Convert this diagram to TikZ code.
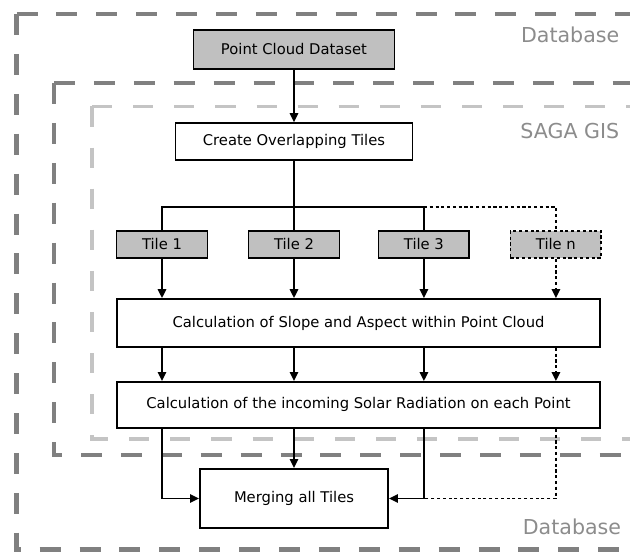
\documentclass[tikz,border=0pt]{standalone}
\usepackage{fontspec}
\setmainfont{DejaVu Sans}
\usetikzlibrary{arrows.meta}
\definecolor{framedark}{HTML}{808080}
\definecolor{framelight}{HTML}{C4C4C4}
\definecolor{boxgrey}{HTML}{C0C0C0}
\definecolor{labelgrey}{HTML}{8C8C8C}
\newcommand{\frameline}[4]{
	\draw[#1] (#2,#3) -- (22,#3);
	\draw[#1] (#2,#3) -- (#2,#4) -- (22,#4);
}

\begin{document}
\begin{tikzpicture}[line width=1.7pt, >={Triangle[length=3mm,width=2.8mm]},
	box/.style={draw, fill=white, font=\fontsize{14}{17}\selectfont},
	tile/.style={box, fill=boxgrey, minimum width=3.03cm, minimum height=0.9cm},
	dotline/.style={dash pattern=on 3pt off 2.5pt},
	outerframe/.style={framedark, line width=4.7pt, dash pattern=on 0.7cm off 0.63cm},
	innerframe/.style={framelight, line width=3.2pt, dash pattern=on 0.67cm off 0.7cm},
	tag/.style={anchor=east, inner sep=0pt, labelgrey, font=\fontsize{19.5}{23}\selectfont}]
	\useasboundingbox (0,0) rectangle (21,18.367);
	
	%database and saga gis frames
	\frameline{outerframe}{0.55}{17.9}{0.05}
	\frameline{outerframe}{1.8}{15.6}{3.2}
	\frameline{innerframe}{3.07}{14.82}{3.73}
	\node[tag] (dbtop) at (20.67,17.2) {Database};
	\node[tag] (saga) at (20.67,14.0) {SAGA GIS};
	\node[tag] (dbbottom) at (20.73,0.8) {Database};
	
	%processing steps
	\node[box, fill=boxgrey, minimum width=6.7cm, minimum height=1.3cm] (pcd) at (9.8,16.72) {Point Cloud Dataset};
	\node[box, minimum width=7.9cm, minimum height=1.23cm] (create) at (9.8,13.65) {Create Overlapping Tiles};
	%tiles
	\node[tile] (tile1) at (5.4,10.22) {Tile 1};
	\node[tile] (tile2) at (9.8,10.22) {Tile 2};
	\node[tile] (tile3) at (14.13,10.22) {Tile 3};
	\node[tile, dotline] (tilen) at (18.53,10.22) {Tile n};
	%calculations and merging
	\node[box, minimum width=16.1cm, minimum height=1.6cm] (slope) at (11.95,7.6) {Calculation of Slope and Aspect within Point Cloud};
	\node[box, minimum width=16.1cm, minimum height=1.53cm] (solar) at (11.95,4.87) {Calculation of the incoming Solar Radiation on each Point};
	\node[box, minimum width=6.27cm, minimum height=1.97cm] (merge) at (9.8,1.75) {Merging all Tiles};
	
	%connections
	\coordinate (split) at (9.8,11.47);
	\draw[->] (pcd) -- (create);
	\draw (create) -- (tile2);
	\draw (tile1.north) |- (split) -| (tile3.north);
	\draw[dotline] (tile3.north |- split) -| (tilen.north);
	\foreach \t in {tile1,tile2,tile3} {
		\draw[->] (\t) -- (\t |- slope.north);
		\draw[->] (\t |- slope.south) -- (\t |- solar.north);
	}
	\draw[->, dotline] (tilen) -- (tilen |- slope.north);
	\draw[->, dotline] (tilen |- slope.south) -- (tilen |- solar.north);
	\draw[->] (tile1 |- solar.south) |- (merge.west);
	\draw[->] (tile2 |- solar.south) -- (merge);
	\draw[->] (tile3 |- solar.south) |- (merge.east);
	\draw[dotline] (tilen |- solar.south) |- (tile3 |- merge.east);
\end{tikzpicture}
\end{document}
